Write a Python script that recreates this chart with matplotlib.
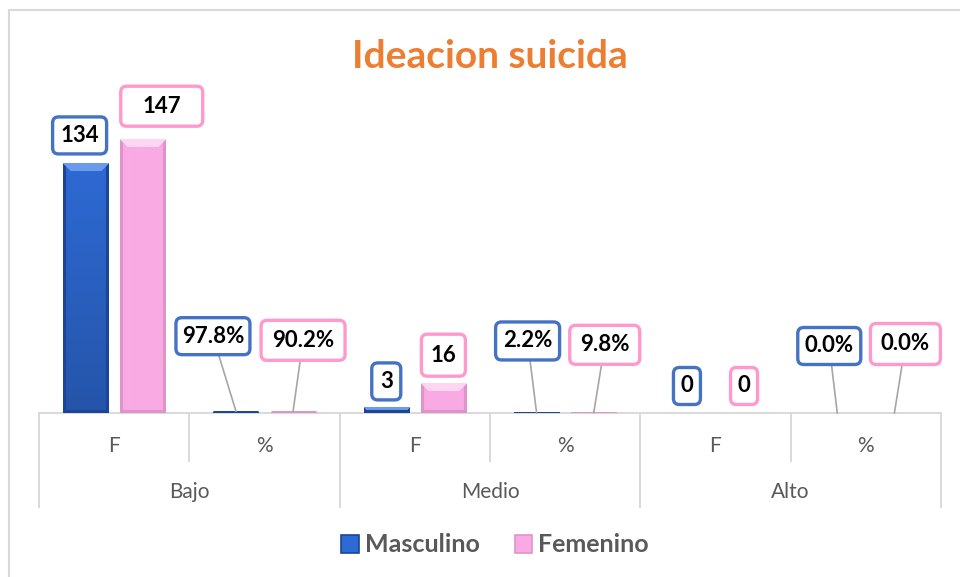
import numpy as np
import matplotlib
matplotlib.use("Agg")
import matplotlib.pyplot as plt
from matplotlib.patches import FancyBboxPatch, Rectangle
from matplotlib.lines import Line2D
from matplotlib.transforms import IdentityTransform, blended_transform_factory
from matplotlib.colors import to_rgb

# ---------------- data ----------------
title = "Ideacion suicida"
groups = ["Bajo", "Medio", "Alto"]
inner_labels = ["F", "%", "F", "%", "F", "%"]
masculino = [134, 0.978, 3, 0.022, 0, 0]
femenino = [147, 0.902, 16, 0.098, 0, 0]
series_names = ["Masculino", "Femenino"]

# ---------------- style ----------------
plt.rcParams['font.family'] = ['Lato', 'DejaVu Sans']
BLUE = dict(base="#2E6AD4", light="#6A9BEE", dark="#1D4595", edge="#4472C4", vgrad=0.2)
PINK = dict(base="#F9AAE3", light="#FDD6F2", dark="#DE94CB", edge="#FF99CC", vgrad=0.0)
GRAY_TXT = "#595959"
AXIS_GRAY = "#D9D9D9"

fig = plt.figure(figsize=(9.6, 5.77), dpi=100)
W, H = 960, 577
ax_left, ax_right, ax_bot, ax_top = 39, 941, 413, 115
ax = fig.add_axes([ax_left / W, 1 - ax_bot / H, (ax_right - ax_left) / W, (ax_bot - ax_top) / H])
ax.set_xlim(-0.5, len(inner_labels) - 0.5)
ax.set_ylim(0, 160)
ax.axis("off")

x = np.arange(len(inner_labels))
width = 0.30
off = 0.19

def bar_image(c, wpx, hpx, bev=8):
    h = max(int(round(hpx)), 1)
    w = max(int(round(wpx)), 1)
    rows = np.arange(h)[:, None] + np.zeros((1, w), dtype=int)
    cols = np.arange(w)[None, :] + np.zeros((h, 1), dtype=int)
    base = np.array(to_rgb(c["base"]))
    light = np.array(to_rgb(c["light"]))
    dark = np.array(to_rgb(c["dark"]))
    vert = 1.0 - c["vgrad"] * (rows / max(h - 1, 1))
    img = base[None, None, :] * vert[..., None]
    dt, dl = rows, cols
    dr = w - 1 - cols
    db = h - 1 - rows
    top = (dt < bev) & (dt <= dl) & (dt <= dr)
    left = (dl < 3) & ~top
    right = (dr < 3) & ~top
    bottom = (db < 3) & (db <= dl) & (db <= dr)
    img[top] = light
    img[left | right] = dark
    img[bottom] = dark
    return np.clip(img, 0, 1)

bars_m = ax.bar(x - off, masculino, width, color="none", edgecolor="none")
bars_f = ax.bar(x + off, femenino, width, color="none", edgecolor="none")

def px_size(rect):
    (x0, y0) = ax.transData.transform((rect.get_x(), rect.get_y()))
    (x1, y1) = ax.transData.transform((rect.get_x() + rect.get_width(), rect.get_y() + rect.get_height()))
    return abs(x1 - x0), abs(y1 - y0)

for bars, c in ((bars_m, BLUE), (bars_f, PINK)):
    for r in bars:
        if r.get_height() <= 0:
            continue
        wpx, hpx = px_size(r)
        img = bar_image(c, wpx, hpx)
        ax.imshow(img, extent=(r.get_x(), r.get_x() + r.get_width(), 0, r.get_height()),
                  aspect="auto", origin="upper", interpolation="bilinear", zorder=2)
ax.set_xlim(-0.5, len(inner_labels) - 0.5)
ax.set_ylim(0, 160)

# ---------------- category axis ----------------
bt = blended_transform_factory(ax.transData, ax.transAxes)
axh = ax_bot - ax_top
ax.add_line(Line2D([-0.5, len(inner_labels) - 0.5], [0, 0], transform=bt, color=AXIS_GRAY, lw=1.4, clip_on=False, zorder=1))
for i in range(len(inner_labels) + 1):
    xb = i - 0.5
    full = (i % 2 == 0)
    ybot = -(94 if full else 48) / axh
    ax.add_line(Line2D([xb, xb], [0, ybot], transform=bt, color=AXIS_GRAY, lw=1.4, clip_on=False))
for i, lab in enumerate(inner_labels):
    ax.text(i, -33 / axh, lab, transform=bt, ha="center", va="center", fontsize=15, color=GRAY_TXT)
for g, name in enumerate(groups):
    ax.text(2 * g + 0.5, -79 / axh, name, transform=bt, ha="center", va="center", fontsize=15, color=GRAY_TXT)

# ---------------- data labels ----------------
# (dx, dy) pixel offsets of the label box centre from bar top, and box size (w, h) in px
label_m = [(-6, 28, 60, 43), (-23, 75, 80, 43), (0, 26, 35, 43), (-9, 72, 70, 44), (0, 27, 33, 43), (-8, 67, 69, 43)]
label_f = [(19, 33, 88, 46), (10, 71, 90, 46), (0, 28, 50, 48), (11, 68, 76, 45), (0, 27, 33, 43), (11, 69, 76, 47)]

def fmt(v, lab):
    return f"{v * 100:.1f}%" if lab == "%" else f"{v:g}"

for bars, vals, specs, c in ((bars_m, masculino, label_m, BLUE), (bars_f, femenino, label_f, PINK)):
    for i, (r, v, (dx, dy, bw, bh)) in enumerate(zip(bars, vals, specs)):
        xc = r.get_x() + r.get_width() / 2
        px, py = ax.transData.transform((xc, v))
        cx, cy = px + dx, py + dy
        if inner_labels[i] == "%":
            ax.add_line(Line2D([px, cx], [py, cy], transform=IdentityTransform(), color="#A6A6A6",
                               lw=1.2, clip_on=False, zorder=3))
        box = FancyBboxPatch((cx - bw / 2 + 3, cy - bh / 2 + 3), bw - 6, bh - 6,
                             boxstyle="round,pad=0,rounding_size=6", transform=IdentityTransform(),
                             facecolor="white", edgecolor=c["edge"], lw=2.4, clip_on=False, zorder=4)
        ax.add_patch(box)
        ax.text(cx, cy, fmt(v, inner_labels[i]), transform=IdentityTransform(), ha="center", va="center",
                fontsize=16, fontweight="bold", color="black", zorder=5, clip_on=False)

# ---------------- title ----------------
fig.text(490 / W, 1 - 57 / H, title, ha="center", va="center", fontsize=28, fontweight="bold", color="#ED7D31")

# ---------------- legend ----------------
handles = [Rectangle((0, 0), 1, 1, facecolor=BLUE["base"], edgecolor=BLUE["dark"], lw=1.2),
           Rectangle((0, 0), 1, 1, facecolor=PINK["base"], edgecolor=PINK["dark"], lw=1.2)]
leg = fig.legend(handles, series_names, loc="center", bbox_to_anchor=(495 / W, 1 - 545 / H), ncol=2,
                 frameon=False, handlelength=0.7, handleheight=0.7, handletextpad=0.25, columnspacing=1.4,
                 prop=dict(family=['Lato', 'DejaVu Sans'], weight="bold", size=18))
for t in leg.get_texts():
    t.set_color(GRAY_TXT)

# ---------------- outer border ----------------
fig.add_artist(Line2D([9 / W, 9 / W], [0, 1 - 10 / H], transform=fig.transFigure, color="#D9D9D9", lw=1.5))
fig.add_artist(Line2D([9 / W, 1], [1 - 10 / H, 1 - 10 / H], transform=fig.transFigure, color="#D9D9D9", lw=1.5))

fig.savefig("out.png", dpi=100, facecolor="white")
